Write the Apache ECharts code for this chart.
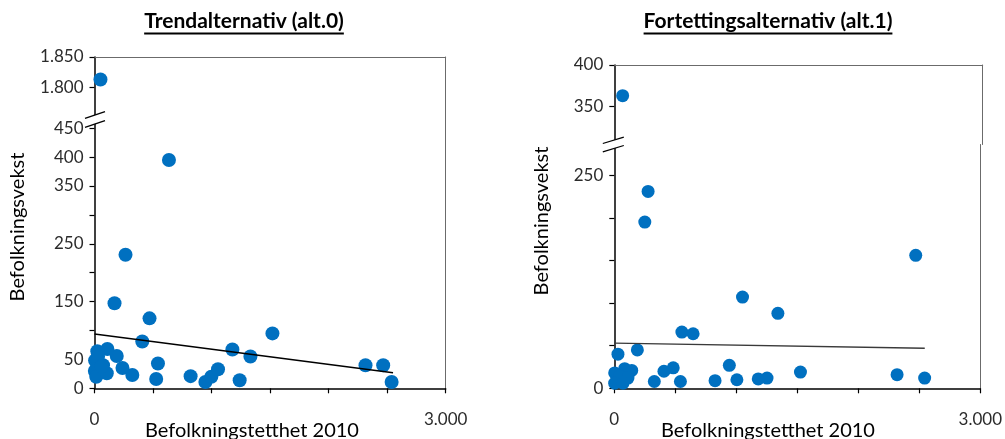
<!DOCTYPE html>
<html>
<head>
<meta charset="utf-8">
<script src="https://cdn.jsdelivr.net/npm/echarts@6/dist/echarts.min.js"></script>
<style>html,body{margin:0;padding:0;background:#fff;}#c{width:1005px;height:439px;}</style>
</head>
<body>
<div id="c"></div>
<script>
// ---------- DATA ----------
const titleLeft = 'Trendalternativ (alt.0)';
const titleRight = 'Fortettingsalternativ (alt.1)';
const xName = 'Befolkningstetthet 2010';
const yName = 'Befolkningsvekst';

// Trendalternativ (alt.0): befolkningstetthet 2010 (x) vs befolkningsvekst (y)
const leftX = [51, 636, 265, 171, 470, 1520, 408, 1178, 1332, 2315, 2466, 2538, 542, 527, 821, 947, 998, 1055, 1240, 323, 239, 190, 110, 24, 5, 30, 73, 3, 15, 105, 60];
const leftY = [1813, 395, 231, 147, 121, 95, 81, 67, 55, 40, 40, 11, 43, 16, 21, 11, 20, 33, 14, 23, 35, 56, 68, 64, 48, 55, 40, 30, 20, 26, 38];
const leftTrendX = [0, 2550];
const leftTrendY = [94, 27];

// Fortettingsalternativ (alt.1)
const rightX = [68, 277, 250, 2471, 1051, 1341, 554, 646, 189, 30, 943, 483, 407, 1526, 2318, 2544, 1252, 1180, 1005, 826, 542, 328, 143, 85, 3, 44, 112, 3, 71];
const rightY = [363, 231, 195, 156, 107, 88, 66, 64, 45, 40, 27, 24, 20, 19, 16, 12, 12, 11, 10, 9, 8, 8, 21, 23, 18, 14, 12, 6, 6];
const rightTrendX = [0, 2545];
const rightTrendY = [53, 47];

// Tick values and labels
const xTicks = [0, 500, 1000, 1500, 2000, 2500, 3000];
const xLabels = [0, 3000];
const leftLowTicks = [0, 50, 100, 150, 200, 250, 300, 350, 400, 450];
const leftLowLabels = [0, 50, 150, 250, 350, 400, 450];
const leftHighTicks = [1800, 1850];
const rightLowTicks = [0, 50, 100, 150, 200, 250];
const rightLowLabels = [0, 250];
const rightHighTicks = [350, 400];

// axis segment ranges (broken axes)
const leftLowRange = [0, 465];
const leftHighRange = [1747, 1850];
const rightLowRange = [0, 286];
const rightHighRange = [304, 400];
const breakLeft = 500;   // values above go to upper segment
const breakRight = 300;

// ---------- LAYOUT ----------
const FONT = 'Lato, "Open Sans", sans-serif';
const L = {left: 94.5, right: 445.7, top: 57, brk: 119.5, bottom: 388.3};
const R = {left: 614.3, right: 982.7, top: 65, brk: 144.5, bottom: 388.3};
const DOT = '#0070C0';
const AXIS = '#000';
const BORDER = '#6b6b6b';
const LABEL = '#2b2b2b';

function fmt(v) {
  const s = String(Math.round(v));
  return s.replace(/\B(?=(\d{3})+(?!\d))/g, '.');
}

function grids(g) {
  return [
    {left: g.left, top: g.top, width: g.right - g.left, height: g.brk - g.top},
    {left: g.left, top: g.brk, width: g.right - g.left, height: g.bottom - g.brk}
  ];
}

const gridList = grids(L).concat(grids(R));

function topX(gi) {
  return {gridIndex: gi, type: 'value', min: 0, max: 3000, position: 'top',
    axisLine: {show: true, lineStyle: {color: BORDER, width: 1}},
    axisTick: {show: false}, axisLabel: {show: false}, splitLine: {show: false}};
}
function bottomX(gi) {
  return {gridIndex: gi, type: 'value', min: 0, max: 3000, position: 'bottom',
    axisLine: {show: true, onZero: false, lineStyle: {color: AXIS, width: 1.5}},
    axisTick: {show: true, inside: false, length: 5, customValues: xTicks, lineStyle: {color: AXIS, width: 1.2}},
    axisLabel: {show: true, customValues: xLabels, margin: 23, formatter: fmt,
      fontFamily: FONT, fontSize: 17, color: LABEL},
    splitLine: {show: false}};
}
function leftAxisY(gi, range, ticks, labels) {
  return {gridIndex: gi, type: 'value', min: range[0], max: range[1], position: 'left',
    axisLine: {show: true, onZero: false, lineStyle: {color: AXIS, width: 1.5}},
    axisTick: {show: true, inside: false, length: 5, customValues: ticks, lineStyle: {color: AXIS, width: 1.2}},
    axisLabel: {show: true, customValues: labels, margin: 11, formatter: fmt,
      fontFamily: FONT, fontSize: 17, color: LABEL},
    splitLine: {show: false}};
}
function rightBorder(gi, range) {
  return {gridIndex: gi, type: 'value', min: range[0], max: range[1], position: 'right',
    axisLine: {show: true, onZero: false, lineStyle: {color: BORDER, width: 1}},
    axisTick: {show: false}, axisLabel: {show: false}, splitLine: {show: false}};
}

const xAxes = [topX(0), bottomX(1), topX(2), bottomX(3)];
const yAxes = [
  leftAxisY(0, leftHighRange, leftHighTicks, leftHighTicks), rightBorder(0, leftHighRange),
  leftAxisY(1, leftLowRange, leftLowTicks, leftLowLabels), rightBorder(1, leftLowRange),
  leftAxisY(2, rightHighRange, rightHighTicks, rightHighTicks), rightBorder(2, rightHighRange),
  leftAxisY(3, rightLowRange, rightLowTicks, rightLowLabels), rightBorder(3, rightLowRange)
];

function pairs(xs, ys, pred) {
  const out = [];
  for (let i = 0; i < xs.length; i++) if (pred(ys[i])) out.push([xs[i], ys[i]]);
  return out;
}
function scatter(xi, yi, data, size) {
  return {type: 'scatter', xAxisIndex: xi, yAxisIndex: yi, data: data, symbolSize: size,
    itemStyle: {color: DOT, opacity: 1}, clip: false, z: 3, silent: true};
}
function trend(xi, yi, xs, ys, color, w) {
  return {type: 'line', xAxisIndex: xi, yAxisIndex: yi, data: xs.map((x, i) => [x, ys[i]]),
    symbol: 'none', lineStyle: {color: color, width: w}, z: 4, silent: true, animation: false};
}

const series = [
  scatter(0, 0, pairs(leftX, leftY, v => v > breakLeft), 14),
  scatter(1, 2, pairs(leftX, leftY, v => v <= breakLeft), 14),
  trend(1, 2, leftTrendX, leftTrendY, '#000', 1.5),
  scatter(2, 4, pairs(rightX, rightY, v => v > breakRight), 13),
  scatter(3, 6, pairs(rightX, rightY, v => v <= breakRight), 13),
  trend(3, 6, rightTrendX, rightTrendY, '#3a3a3a', 1.3)
];

// ---------- DECORATION ----------
const ctx = document.createElement('canvas').getContext('2d');
function textW(t, font) { ctx.font = font; return ctx.measureText(t).width; }

function titleGraphic(text, cx) {
  const font = 'bold 21px ' + FONT;
  const w = textW(text, font);
  return [
    {type: 'text', x: cx, y: 21, z: 10, style: {text: text, font: font, fill: '#000',
      align: 'center', verticalAlign: 'middle', textAlign: 'center', textVerticalAlign: 'middle'}},
    {type: 'line', z: 10, shape: {x1: cx - w / 2, y1: 33.5, x2: cx + w / 2, y2: 33.5},
      style: {stroke: '#000', lineWidth: 1.8}}
  ];
}
function breakMark(x, y, dxl, dxr, rise, half) {
  return [
    {type: 'polygon', z: 20, shape: {points: [
      [x + dxl, y - half], [x + dxr, y - half - rise], [x + dxr, y + half - rise], [x + dxl, y + half]]},
      style: {fill: '#fff', stroke: null}},
    {type: 'line', z: 21, shape: {x1: x + dxl, y1: y - half, x2: x + dxr, y2: y - half - rise},
      style: {stroke: '#000', lineWidth: 1.3}},
    {type: 'line', z: 21, shape: {x1: x + dxl, y1: y + half, x2: x + dxr, y2: y + half - rise},
      style: {stroke: '#000', lineWidth: 1.3}}
  ];
}
function textG(text, x, y, rot, size) {
  return {type: 'text', x: x, y: y, rotation: rot, z: 10,
    style: {text: text, font: size + 'px ' + FONT, fill: '#000',
      align: 'center', verticalAlign: 'middle', textAlign: 'center', textVerticalAlign: 'middle'}};
}

const graphic = []
  .concat(titleGraphic(titleLeft, 244))
  .concat(titleGraphic(titleRight, 768))
  .concat(breakMark(L.left, L.brk + 3.3, -9.5, 10.5, 6.6, 4.5))
  .concat(breakMark(R.left, R.brk + 3.2, -11.5, 9.5, 6.4, 4.2))
  .concat([
    textG(yName, 18, 227, Math.PI / 2, 20),
    textG(yName, 542, 221, Math.PI / 2, 20),
    textG(xName, 252, 431, 0, 20),
    textG(xName, 768, 431, 0, 20)
  ]);

const chart = echarts.init(document.getElementById('c'), null, {renderer: 'canvas'});
chart.setOption({
  animation: false,
  backgroundColor: '#fff',
  grid: gridList,
  xAxis: xAxes,
  yAxis: yAxes,
  series: series,
  graphic: graphic
});
</script>
</body>
</html>
